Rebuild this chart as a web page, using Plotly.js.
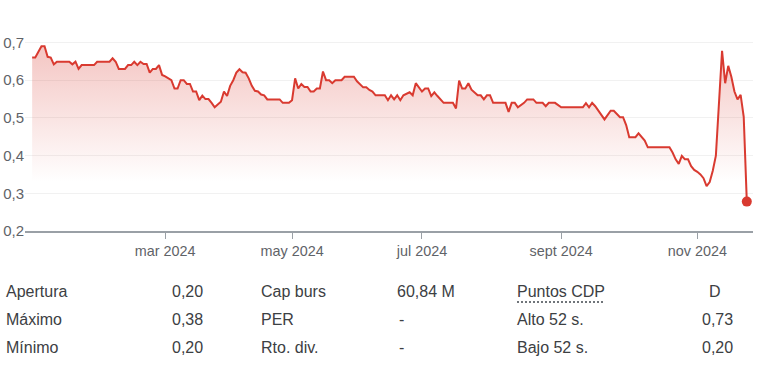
<!DOCTYPE html>
<html>
<head>
<meta charset="utf-8">
<script src="https://cdn.plot.ly/plotly-3.0.1.min.js"></script>
<style>
  html, body { margin: 0; padding: 0; background: #fff; }
  #wrap { position: relative; width: 768px; height: 370px; overflow: hidden; }
  #chart { position: absolute; left: 0; top: 0; width: 768px; height: 370px; }
  .cell { position: absolute; font-family: Arial, "Liberation Sans", sans-serif; font-size: 16px; line-height: 20px; color: #3c4043; white-space: nowrap; }
  .dotted { text-decoration: underline dotted #70757a; text-underline-offset: 4px; text-decoration-thickness: 1.5px; }
</style>
</head>
<body>
<div id="wrap">
  <div id="chart"></div>
</div>
<script>
// ---- data ----
const dates = [
 '2024-01-02','2024-01-03','2024-01-05','2024-01-08','2024-01-09','2024-01-10','2024-01-11','2024-01-12',
 '2024-01-18','2024-01-19','2024-01-22','2024-01-23','2024-01-24','2024-01-30','2024-01-31',
 '2024-02-06','2024-02-07','2024-02-08','2024-02-09','2024-02-13','2024-02-14','2024-02-15','2024-02-16',
 '2024-02-19','2024-02-20','2024-02-21','2024-02-22','2024-02-23','2024-02-26','2024-02-27','2024-02-28','2024-02-29',
 '2024-03-01','2024-03-05','2024-03-06','2024-03-07','2024-03-08','2024-03-11','2024-03-12','2024-03-13','2024-03-14',
 '2024-03-15','2024-03-18','2024-03-19','2024-03-20','2024-03-21','2024-03-22','2024-03-25','2024-03-27','2024-03-28',
 '2024-04-02','2024-04-03','2024-04-04','2024-04-05','2024-04-08','2024-04-09','2024-04-10','2024-04-11','2024-04-12',
 '2024-04-15','2024-04-16','2024-04-17','2024-04-18','2024-04-19','2024-04-25','2024-04-26','2024-04-30',
 '2024-05-02','2024-05-03','2024-05-06','2024-05-07','2024-05-08','2024-05-09','2024-05-10','2024-05-13','2024-05-14',
 '2024-05-15','2024-05-16','2024-05-17','2024-05-20','2024-05-21','2024-05-22','2024-05-24','2024-05-27','2024-05-30','2024-05-31',
 '2024-06-04','2024-06-05','2024-06-06','2024-06-07','2024-06-10','2024-06-13','2024-06-14','2024-06-17','2024-06-18',
 '2024-06-19','2024-06-20','2024-06-21','2024-06-25','2024-06-26','2024-06-27','2024-06-28',
 '2024-07-01','2024-07-02','2024-07-03','2024-07-04','2024-07-05','2024-07-08','2024-07-10','2024-07-15','2024-07-16',
 '2024-07-17','2024-07-18','2024-07-19','2024-07-22','2024-07-23','2024-07-24','2024-07-25','2024-07-26','2024-07-29',
 '2024-07-30','2024-07-31','2024-08-01','2024-08-07','2024-08-08','2024-08-09','2024-08-12','2024-08-13','2024-08-15',
 '2024-08-16','2024-08-20','2024-08-21','2024-08-23','2024-08-26','2024-08-27','2024-08-29',
 '2024-09-02','2024-09-11','2024-09-12','2024-09-13','2024-09-16','2024-09-17','2024-09-20','2024-09-24','2024-09-25',
 '2024-09-27','2024-09-30','2024-10-01','2024-10-02','2024-10-04','2024-10-07','2024-10-08','2024-10-09','2024-10-10',
 '2024-10-21','2024-10-22','2024-10-23','2024-10-24','2024-10-25','2024-10-28','2024-10-29','2024-10-30','2024-10-31',
 '2024-11-01','2024-11-04','2024-11-05','2024-11-06','2024-11-07','2024-11-08','2024-11-11','2024-11-12','2024-11-13',
 '2024-11-14','2024-11-15','2024-11-18','2024-11-19','2024-11-20','2024-11-21','2024-11-22','2024-11-25'
];
const prices = [
 0.66,0.66,0.69,0.69,0.662,0.66,0.642,0.649,
 0.649,0.642,0.649,0.63,0.64,0.64,0.649,
 0.649,0.658,0.649,0.63,0.63,0.64,0.64,0.649,
 0.64,0.649,0.643,0.643,0.62,0.63,0.63,0.64,0.614,
 0.61,0.60,0.578,0.578,0.60,0.60,0.59,0.59,0.57,
 0.57,0.547,0.559,0.55,0.55,0.54,0.528,0.543,0.57,
 0.558,0.585,0.60,0.62,0.629,0.621,0.62,0.605,0.585,
 0.572,0.57,0.562,0.56,0.549,0.549,0.54,0.54,
 0.547,0.605,0.578,0.59,0.582,0.582,0.57,0.57,0.578,
 0.578,0.623,0.60,0.60,0.592,0.60,0.60,0.609,0.609,0.597,
 0.581,0.581,0.574,0.57,0.56,0.56,0.547,0.56,0.549,
 0.56,0.547,0.56,0.568,0.56,0.592,0.581,
 0.57,0.578,0.578,0.558,0.568,0.558,0.54,0.54,0.525,
 0.599,0.578,0.578,0.592,0.575,0.567,0.56,0.56,0.549,
 0.56,0.56,0.54,0.54,0.516,0.54,0.54,0.528,0.54,
 0.549,0.549,0.54,0.54,0.531,0.54,0.54,
 0.528,0.528,0.539,0.528,0.54,0.531,0.496,0.519,0.519,
 0.502,0.502,0.481,0.449,0.449,0.459,0.45,0.44,0.422,
 0.422,0.408,0.39,0.378,0.399,0.39,0.39,0.372,0.362,
 0.357,0.35,0.34,0.319,0.33,0.36,0.40,0.54,0.678,
 0.592,0.638,0.609,0.57,0.549,0.561,0.503,0.278
];
const tickDates = ['2024-03-01','2024-05-02','2024-07-01','2024-09-02','2024-11-01'];
const tickLabels = ['mar 2024','may 2024','jul 2024','sept 2024','nov 2024'];
const yTicks = [0.2,0.3,0.4,0.5,0.6,0.7];
const holidays = ['2024-03-29','2024-04-01','2024-05-01'];

const statLabelsA = ['Apertura','Máximo','Mínimo'];
const statValuesA = ['0,20','0,38','0,20'];
const statLabelsB = ['Cap burs','PER','Rto. div.'];
const statValuesB = ['60,84 M','-','-'];
const statLabelsC = ['Puntos CDP','Alto 52 s.','Bajo 52 s.'];
const statValuesC = ['D','0,73','0,20'];

// ---- chart ----
const RED = '#d93a30';
const font = 'Arial, "Liberation Sans", sans-serif';

const area = {
  x: dates, y: prices, type: 'scatter', mode: 'lines',
  line: {color: RED, width: 2},
  fill: 'tozeroy',
  fillgradient: {
    type: 'vertical', start: 0.33, stop: 0.7,
    colorscale: [[0, 'rgba(217,58,48,0)'], [1, 'rgba(217,58,48,0.30)']]
  },
  hoverinfo: 'skip'
};
const lastDot = {
  x: [dates[dates.length - 1]], y: [prices[prices.length - 1]],
  type: 'scatter', mode: 'markers',
  marker: {color: RED, size: 10},
  hoverinfo: 'skip'
};

const layout = {
  width: 768, height: 370,
  margin: {l: 25, r: 15, t: 29, b: 139},
  paper_bgcolor: '#fff', plot_bgcolor: '#fff',
  separators: ',.',
  showlegend: false,
  font: {family: font, color: '#5f6368'},
  xaxis: {
    type: 'date',
    range: ['2023-12-28 16:25', '2024-11-27 00:00'],
    rangebreaks: [{bounds: ['sat', 'mon']}, {values: holidays}],
    tickmode: 'array', tickvals: tickDates, ticktext: tickLabels,
    ticks: 'outside', ticklen: 6, tickwidth: 1, tickcolor: '#9aa0a6',
    showgrid: false, zeroline: false,
    showline: true, linecolor: '#9aa0a6', linewidth: 2,
    tickfont: {size: 14.4, color: '#5f6368', family: font}
  },
  yaxis: {
    range: [0.2, 0.7358],
    tickmode: 'array', tickvals: yTicks, tickformat: '.1f',
    showgrid: true, gridcolor: '#f1f1f1', gridwidth: 1,
    zeroline: false, showline: false, ticks: '',
    tickfont: {size: 15, color: '#5f6368', family: font}
  }
};

Plotly.newPlot('chart', [area, lastDot], layout, {staticPlot: true, displayModeBar: false});

// ---- stats table ----
const wrap = document.getElementById('wrap');
const rowCenters = [292, 320, 348];
const columns = [
  {items: statLabelsA, lefts: [6, 6, 6]},
  {items: statValuesA, lefts: [172, 172, 172]},
  {items: statLabelsB, lefts: [261, 261, 261]},
  {items: statValuesB, lefts: [397, 399, 399]},
  {items: statLabelsC, lefts: [517, 517, 517], dottedFirst: true},
  {items: statValuesC, lefts: [709, 702, 702]}
];
columns.forEach(col => {
  col.items.forEach((txt, i) => {
    const d = document.createElement('div');
    d.className = 'cell';
    d.style.left = col.lefts[i] + 'px';
    d.style.top = (rowCenters[i] - 10) + 'px';
    if (col.dottedFirst && i === 0) {
      const s = document.createElement('span');
      s.className = 'dotted';
      s.textContent = txt;
      d.appendChild(s);
    } else {
      d.textContent = txt;
    }
    wrap.appendChild(d);
  });
});
</script>
</body>
</html>
